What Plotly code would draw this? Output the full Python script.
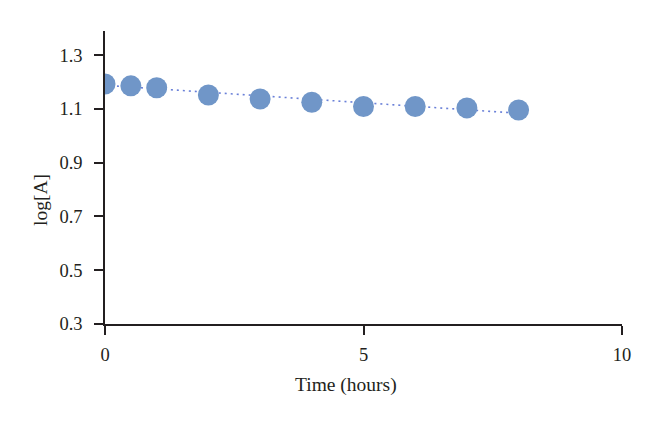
import plotly.graph_objects as go

time_h = [0, 0.5, 1, 2, 3, 4, 5, 6, 7, 8]
log_a = [1.193, 1.186, 1.179, 1.152, 1.137, 1.125, 1.109, 1.109, 1.104, 1.096]

trend_x = [0, 8]
trend_y = [1.188, 1.084]

x_ticks = [0, 5, 10]
y_ticks = [0.3, 0.5, 0.7, 0.9, 1.1, 1.3]

font_family = "Liberation Serif"
axis_color = "#231f20"

fig = go.Figure()
fig.add_trace(go.Scatter(
    x=trend_x, y=trend_y, mode="lines",
    line=dict(color="#6a80d8", width=1.6, dash="2px,4px"),
    showlegend=False, hoverinfo="skip",
))
fig.add_trace(go.Scatter(
    x=time_h, y=log_a, mode="markers",
    marker=dict(color="#7096c8", size=21, line=dict(width=0)),
    showlegend=False,
))

fig.update_layout(
    width=660, height=425,
    margin=dict(l=97, r=46, t=23, b=109),
    paper_bgcolor="white", plot_bgcolor="white",
    font=dict(family=font_family, size=19, color=axis_color),
    xaxis=dict(
        range=[0, 10], tickvals=x_ticks, showgrid=False, zeroline=False,
        showline=True, linecolor=axis_color, linewidth=1.5,
        ticks="outside", ticklen=9, tickwidth=1.5, tickcolor=axis_color,
        ticklabelstandoff=4,
        tickfont=dict(family=font_family, size=18.5, color=axis_color),
    ),
    yaxis=dict(
        range=[0.3, 1.39], tickvals=y_ticks, ticktext=[f"{v:.1f}" for v in y_ticks],
        showgrid=False, zeroline=False,
        showline=True, linecolor=axis_color, linewidth=1.5,
        ticks="outside", ticklen=9, tickwidth=1.5, tickcolor=axis_color,
        ticklabelstandoff=8,
        tickfont=dict(family=font_family, size=18.5, color=axis_color),
    ),
    annotations=[
        dict(text="Time (hours)", xref="paper", yref="paper", x=0.466, y=-0.208,
             showarrow=False, xanchor="center", yanchor="middle",
             font=dict(family=font_family, size=19.5, color=axis_color)),
        dict(text="log[A]", xref="paper", yref="paper", x=-0.126, y=0.423,
             showarrow=False, xanchor="center", yanchor="middle", textangle=-90,
             font=dict(family=font_family, size=19.5, color=axis_color)),
    ],
)

fig.write_html("out.html")
